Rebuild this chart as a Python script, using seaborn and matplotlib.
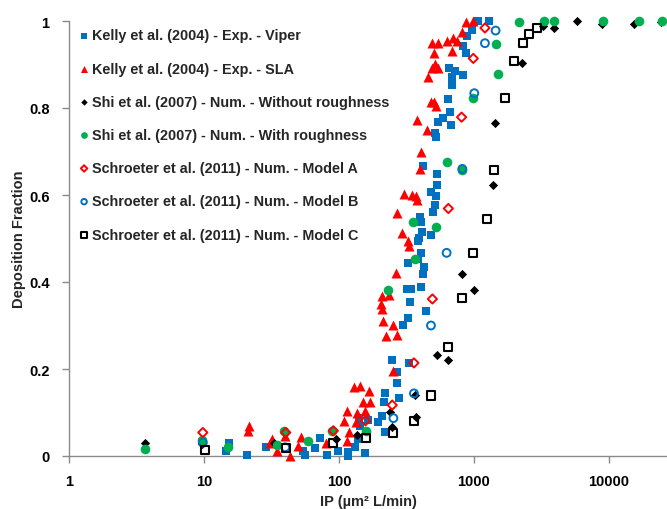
import numpy as np
import pandas as pd
import matplotlib
matplotlib.use("Agg")
import matplotlib.pyplot as plt
import seaborn as sns
from matplotlib.ticker import FixedLocator, LogLocator, NullFormatter

# ---------------- data ----------------
viper_x = [1077, 1300, 960, 881, 834, 869, 653, 723, 824, 683, 683, 689, 646, 662, 593, 545, 672,
           514, 520, 421, 528, 533, 480, 523, 516, 500, 398, 402, 414, 480, 392, 387, 402, 387,
           327, 426, 421, 317, 341, 408, 335, 441, 327, 296, 245, 330, 267, 271, 280, 219, 216,
           207, 195, 219, 165, 141, 143, 139, 131, 116, 156, 117, 98, 81, 72, 66, 56, 54.5, 28.8,
           21, 15.2, 14.5]
viper_y = [1.0, 1.0, 0.98, 0.966, 0.943, 0.926, 0.892, 0.886, 0.876, 0.871, 0.859, 0.853, 0.821,
           0.791, 0.776, 0.767, 0.761, 0.743, 0.734, 0.667, 0.648, 0.624, 0.608, 0.597, 0.577,
           0.56, 0.549, 0.537, 0.514, 0.509, 0.501, 0.495, 0.467, 0.453, 0.444, 0.434, 0.418,
           0.384, 0.384, 0.389, 0.355, 0.333, 0.317, 0.302, 0.221, 0.214, 0.192, 0.168, 0.133,
           0.144, 0.123, 0.091, 0.079, 0.056, 0.083, 0.087, 0.07, 0.039, 0.02, 0.01, 0.008, 0.0,
           0.012, 0.002, 0.041, 0.018, 0.002, 0.012, 0.02, 0.003, 0.031, 0.012]

sla_x = [873, 977, 819, 485, 545, 627, 703, 746, 508, 689, 485, 514, 538, 459, 480, 508, 520, 376,
         451, 402, 398, 305, 349, 372, 380, 270, 293, 322, 331, 263, 207, 235, 204, 210, 212, 253,
         223, 267, 250, 130, 143, 167, 151, 171, 114, 137, 156, 108, 133, 119, 80, 114, 21.7, 21.3,
         31.7, 30.7, 34.8, 40, 43.4, 52, 50]
sla_y = [0.997, 1.0, 0.974, 0.949, 0.949, 0.955, 0.962, 0.955, 0.926, 0.932, 0.893, 0.901, 0.893,
         0.872, 0.813, 0.813, 0.805, 0.772, 0.749, 0.70, 0.66, 0.602, 0.60, 0.598, 0.589, 0.558,
         0.513, 0.495, 0.482, 0.42, 0.367, 0.369, 0.349, 0.338, 0.311, 0.301, 0.277, 0.278,
         0.196, 0.158, 0.16, 0.149, 0.125, 0.125, 0.103, 0.099, 0.104, 0.081, 0.079, 0.056,
         0.03, 0.035, 0.07, 0.058, 0.039, 0.031, 0.012, 0.047, 0.0, 0.043, 0.024]

shi_no_x = [5770, 8830, 15400, 24150, 3940, 3260, 2255, 1430, 1390, 1005, 819, 529, 645, 365, 372,
            239, 248, 137, 95, 3.66, 9.6, 33, 40]
shi_no_y = [1.0, 0.993, 0.993, 0.997, 0.985, 0.989, 0.903, 0.766, 0.624, 0.382, 0.418, 0.233,
            0.221, 0.14, 0.089, 0.102, 0.067, 0.049, 0.039, 0.029, 0.028, 0.03, 0.052]

shi_r_x = [2155, 3300, 3915, 8970, 16760, 24800, 1445, 1510, 977, 365, 229, 158, 89, 59, 634, 819,
           355, 523, 3.66, 9.6, 15.1, 34.9, 39.1]
shi_r_y = [0.997, 0.999, 1.0, 1.0, 1.0, 1.0, 0.946, 0.878, 0.823, 0.453, 0.382, 0.058, 0.058,
           0.035, 0.675, 0.657, 0.537, 0.526, 0.016, 0.037, 0.021, 0.026, 0.058]

modA_x = [1205, 988, 809, 646, 492, 359, 248, 157, 90.8, 9.8, 40.3]
modA_y = [0.984, 0.914, 0.779, 0.569, 0.361, 0.214, 0.117, 0.081, 0.058, 0.054, 0.054]

modB_x = [1445, 1205, 1005, 819, 627, 480, 359, 253, 9.8, 40]
modB_y = [0.978, 0.949, 0.834, 0.66, 0.467, 0.30, 0.144, 0.087, 0.031, 0.02]

modC_x = [2910, 2570, 2290, 1985, 1700, 1415, 1242, 988, 809, 637, 480, 359, 253, 158, 89.8,
          10.1, 40.3]
modC_y = [0.984, 0.97, 0.949, 0.909, 0.822, 0.657, 0.545, 0.466, 0.363, 0.251, 0.139, 0.081,
          0.052, 0.041, 0.03, 0.014, 0.018]

labels = ["Kelly et al. (2004) - Exp. - Viper",
          "Kelly et al. (2004) - Exp. - SLA",
          "Shi et al. (2007) - Num. - Without roughness",
          "Shi et al. (2007) - Num. - With roughness",
          "Schroeter et al. (2011) - Num. - Model A",
          "Schroeter et al. (2011) - Num. - Model B",
          "Schroeter et al. (2011) - Num. - Model C"]

x_ticks = [1, 10, 100, 1000, 10000]
x_ticklabels = ["1", "10", "100", "1000", "10000"]
y_ticks = [0, 0.2, 0.4, 0.6, 0.8, 1.0]
y_ticklabels = ["0", "0.2", "0.4", "0.6", "0.8", "1"]

# ---------------- style ----------------
sns.set_style("white")
plt.rcParams["font.family"] = ["Liberation Sans", "DejaVu Sans"]
plt.rcParams["font.weight"] = "bold"

BLUE = "#0070C0"
RED = "#FF0000"
GREEN = "#00B050"
BLACK = "#000000"

fig = plt.figure(figsize=(6.67, 5.10), dpi=100)
ax = fig.add_axes([69 / 667, 1 - 457 / 510, 1 - 69 / 667, (457 - 22) / 510])

series = [
    (viper_x, viper_y, dict(marker="s", s=30, color=BLUE, linewidth=0)),
    (sla_x, sla_y, dict(marker="^", s=52, color=RED, linewidth=0)),
    (shi_no_x, shi_no_y, dict(marker="D", s=22, color=BLACK, linewidth=0)),
    (shi_r_x, shi_r_y, dict(marker="o", s=48, color=GREEN, linewidth=0)),
    (modA_x, modA_y, dict(marker="D", s=22, color=RED, facecolor="none", edgecolor=RED, linewidth=1.4)),
    (modB_x, modB_y, dict(marker="o", s=32, color=BLUE, facecolor="none", edgecolor=BLUE, linewidth=1.4)),
    (modC_x, modC_y, dict(marker="s", s=34, color=BLACK, facecolor="none", edgecolor=BLACK, linewidth=1.5)),
]

for (xs, ys, kw), lab in zip(series, labels):
    df = pd.DataFrame({"IP": xs, "DF": ys})
    sns.scatterplot(data=df, x="IP", y="DF", ax=ax, label=lab, clip_on=False, zorder=3, **kw)

ax.set_xscale("log")
ax.set_xlim(1, 10 ** ((667 - 69) / 135))
ax.set_ylim(0, 1)

ax.xaxis.set_major_locator(FixedLocator(x_ticks))
ax.set_xticklabels(x_ticklabels)
ax.xaxis.set_minor_locator(LogLocator(base=10, subs=np.arange(2, 10), numticks=20))
ax.xaxis.set_minor_formatter(NullFormatter())
ax.set_yticks(y_ticks)
ax.set_yticklabels(y_ticklabels)

for side in ["top", "right"]:
    ax.spines[side].set_visible(False)
for side in ["left", "bottom"]:
    ax.spines[side].set_color("#8a8a8a")
    ax.spines[side].set_linewidth(1.0)

ax.tick_params(axis="both", which="major", direction="out", length=5, width=1,
               color="#8a8a8a", labelsize=10.5, labelcolor="black")
ax.tick_params(axis="x", which="minor", direction="out", length=3, width=1, color="#8a8a8a")
ax.tick_params(axis="x", which="major", pad=8)
ax.tick_params(axis="y", which="major", pad=9)
ax.tick_params(left=True, bottom=True)
for t in ax.get_xticklabels() + ax.get_yticklabels():
    t.set_fontweight("bold")

ax.set_xlabel("IP (µm² L/min)", fontsize=10.5, fontweight="bold", labelpad=4)
ax.set_ylabel("Deposition Fraction", fontsize=10.5, fontweight="bold", labelpad=2)
ax.grid(False)

leg = ax.legend(loc="upper left", bbox_to_anchor=(0.018, 0.983), frameon=False,
                prop={"size": 10.4, "weight": "bold"}, handlelength=0.6, handletextpad=0.25,
                labelspacing=1.33, borderpad=0, borderaxespad=0, markerscale=0.7)

fig.savefig("out.png", dpi=100)
